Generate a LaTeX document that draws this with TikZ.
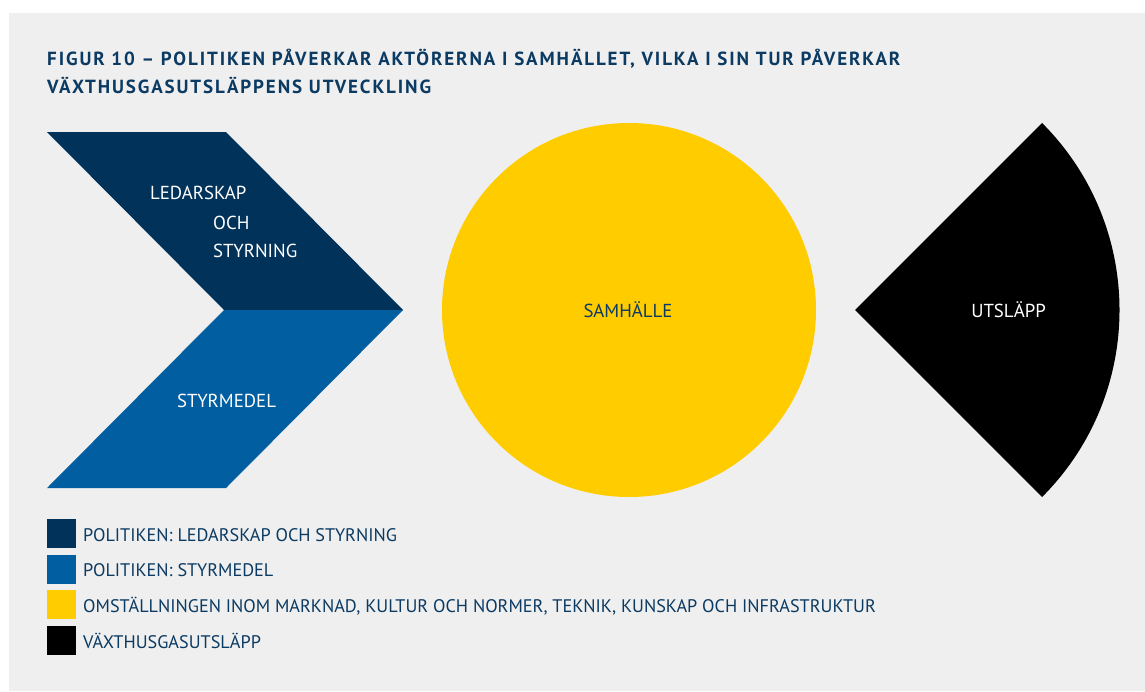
\documentclass[tikz,border=0pt]{standalone}
\usepackage{fontspec}
\setmainfont{PT Sans}
\newfontfamily\titlefont[LetterSpace=10]{PT Sans Bold}
\definecolor{bg}{HTML}{EFEFEF}
\definecolor{navy}{HTML}{00325A}
\definecolor{navytext}{HTML}{0B3A62}
\definecolor{midblue}{HTML}{005EA1}
\definecolor{gold}{HTML}{FFCC00}
\tikzset{
  lbl/.style={inner sep=0pt, font=\fontsize{18.8}{20}\selectfont},
  leg/.style={inner sep=0pt, anchor=base west, text=navytext, font=\fontsize{18.2}{20}\selectfont},
  ttl/.style={inner sep=0pt, anchor=base west, text=navytext, font=\titlefont\fontsize{19}{20}\selectfont},
  sq/.style={minimum width=29pt, minimum height=29pt, inner sep=0pt, anchor=north west}
}
\begin{document}
\begin{tikzpicture}[x=1pt,y=-1pt]
\useasboundingbox (0,0) rectangle (1145,691);
\fill[white] (0,0) rectangle (1145,691);
\fill[bg] (9,13) rectangle (1145,691);
% title
\node[ttl] (t1) at (47,65.5) {FIGUR 10 – POLITIKEN PÅVERKAR AKTÖRERNA I SAMHÄLLET, VILKA I SIN TUR PÅVERKAR};
\node[ttl] (t2) at (47,93) {VÄXTHUSGASUTSLÄPPENS UTVECKLING};
% chevron
\fill[navy] (47,132) -- (226,132) -- (403,310) -- (224,310) -- cycle;
\fill[midblue] (224,310) -- (403,310) -- (226,488) -- (47,488) -- cycle;
% circle
\fill[gold] (629,310) circle[radius=187];
% sector
\fill[black] (855,310) -- ++(-45:264.5) arc[start angle=-45, end angle=45, radius=264.5] -- cycle;
% labels
\node[lbl, anchor=base west, text=white] (l1) at (150,199) {LEDARSKAP};
\node[lbl, anchor=base west, text=white] (l2) at (213,229) {OCH};
\node[lbl, anchor=base west, text=white] (l3) at (213,257) {STYRNING};
\node[lbl, anchor=base, text=white] (l4) at (226.5,407) {STYRMEDEL};
\node[lbl, anchor=base, text=navytext] (l5) at (628,317) {SAMHÄLLE};
\node[lbl, anchor=base, text=white] (l6) at (1008.5,317) {UTSLÄPP};
% legend
\node[sq, fill=navy] (s1) at (47,519) {};
\node[sq, fill=midblue] (s2) at (47,555) {};
\node[sq, fill=gold] (s3) at (47,590) {};
\node[sq, fill=black] (s4) at (47,626) {};
\node[leg] (g1) at (83,541) {POLITIKEN: LEDARSKAP OCH STYRNING};
\node[leg] (g2) at (83,576) {POLITIKEN: STYRMEDEL};
\node[leg] (g3) at (83,612) {OMSTÄLLNINGEN INOM MARKNAD, KULTUR OCH NORMER, TEKNIK, KUNSKAP OCH INFRASTRUKTUR};
\node[leg] (g4) at (83,648) {VÄXTHUSGASUTSLÄPP};
\end{tikzpicture}
\end{document}
